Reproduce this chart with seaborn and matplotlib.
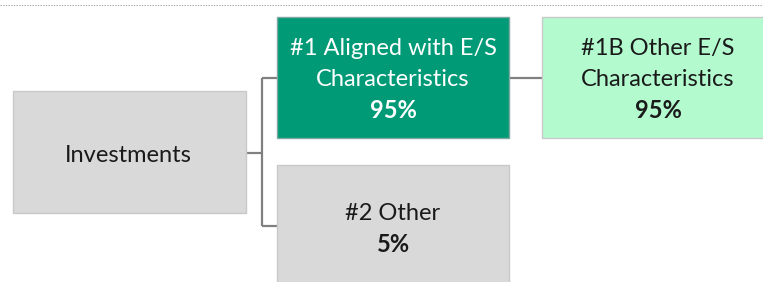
import matplotlib
matplotlib.use("Agg")
import matplotlib.pyplot as plt
from matplotlib.patches import Rectangle
import seaborn as sns

# ---- data ----
node_names = ["Investments", "#1 Aligned with E/S\nCharacteristics", "#1B Other E/S\nCharacteristics", "#2 Other"]
node_shares = [None, "95%", "95%", "5%"]

# ---- layout / style (pixels in a 763x282 canvas) ----
boxes = [  # x0, y0, x1, y1
    (13, 91, 246, 213),
    (277, 17, 509, 138),
    (542, 17, 775, 138),
    (277, 165, 509, 290),
]
face = ["#D9D9D9", "#009A77", "#B3FBCE", "#D9D9D9"]
edge = ["#C9C9C9", "#7FA8A0", "#C9C9C9", "#C9C9C9"]
txt_col = ["#1A1A1A", "white", "#1A1A1A", "#1A1A1A"]
text_cx = [128, 393, 658, 393]
first_baseline = [162, 55, 55, 220]
spacing = 31.5

sns.set_theme(style="white")
plt.rcParams["font.family"] = ["Lato", "DejaVu Sans"]

fig = plt.figure(figsize=(7.63, 2.82), dpi=100)
ax = fig.add_axes([0, 0, 1, 1])
ax.set_xlim(0, 763)
ax.set_ylim(282, 0)
ax.axis("off")

# dotted top rule
ax.plot([0, 763], [4.5, 4.5], color="#A6A6A6", lw=0.8, ls=(0, (1.2, 1.2)))

# connectors
lc = "#808080"
lw = 1.6
ax.plot([246, 262], [153, 153], color=lc, lw=lw, solid_capstyle="butt")
ax.plot([262, 262], [78, 226], color=lc, lw=lw, solid_capstyle="butt")
ax.plot([262, 277], [78, 78], color=lc, lw=lw, solid_capstyle="butt")
ax.plot([262, 277], [226, 226], color=lc, lw=lw, solid_capstyle="butt")
ax.plot([509, 542], [78, 78], color=lc, lw=lw, solid_capstyle="butt")

fs = 17
for i, (x0, y0, x1, y1) in enumerate(boxes):
    ax.add_patch(Rectangle((x0, y0), x1 - x0, y1 - y0, facecolor=face[i],
                           edgecolor=edge[i], lw=1.0, zorder=2))
    lines = node_names[i].split("\n")
    for k, line in enumerate(lines):
        ax.text(text_cx[i], first_baseline[i] + k * spacing, line, ha="center",
                va="baseline", fontsize=fs, color=txt_col[i], zorder=3)
    if node_shares[i]:
        ax.text(text_cx[i], first_baseline[i] + len(lines) * spacing, node_shares[i],
                ha="center", va="baseline", fontsize=fs, fontweight="bold",
                color=txt_col[i], zorder=3)

fig.savefig("out.png", dpi=100)
